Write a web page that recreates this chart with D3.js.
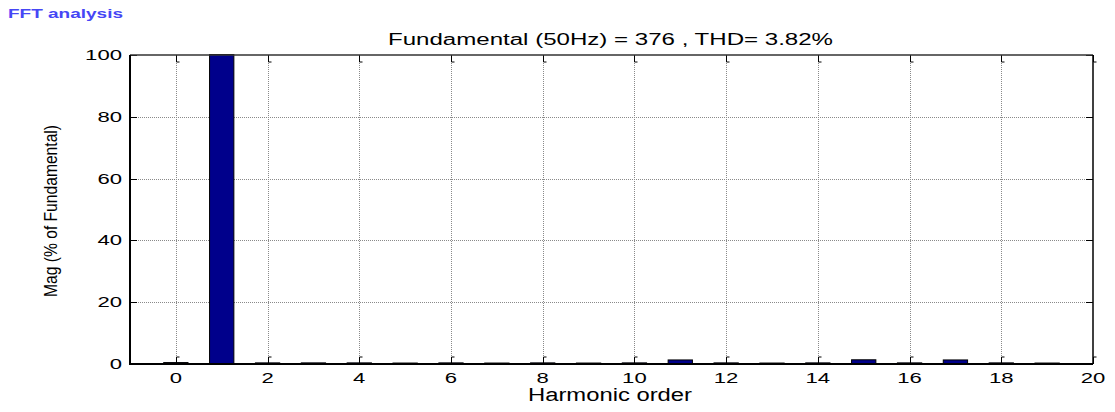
<!DOCTYPE html>
<html><head><meta charset="utf-8">
<script src="https://cdn.jsdelivr.net/npm/d3@7"></script>
<style>body{margin:0;background:#fff}svg{display:block}</style>
</head><body>
<svg id="c" width="1115" height="412"></svg>
<script>
const harmonics = [0,1,2,3,4,5,6,7,8,9,10,11,12,13,14,15,16,17,18,19];
const magnitudes = [0.3,100,0.2,0.2,0.2,0.15,0.2,0.15,0.2,0.15,0.2,1.15,0.2,0.15,0.2,1.2,0.2,1.15,0.2,0.15];
const xTicks = [0,2,4,6,8,10,12,14,16,18,20];
const yTicks = [0,20,40,60,80,100];
const titleText = "Fundamental (50Hz) = 376 , THD= 3.82%";
const xLabel = "Harmonic order";
const yLabel = "Mag (% of Fundamental)";
const headerText = "FFT analysis";

const svg = d3.select("#c");
const L=130, R=1093, T=55, B=364;
const x = d3.scaleLinear().domain([-1,20]).range([L,R]);
const y = d3.scaleLinear().domain([0,100]).range([B,T]);
const font = "'Liberation Sans', Arial, sans-serif";

// grid
const g = svg.append("g");
g.selectAll(".vg").data(xTicks.filter(d=>d<20)).enter().append("line")
  .attr("x1",d=>Math.round(x(d))+0.5).attr("x2",d=>Math.round(x(d))+0.5).attr("y1",T).attr("y2",B)
  .attr("stroke","#8a8a8a").attr("stroke-width",1).attr("stroke-dasharray","1,1");
g.selectAll(".hg").data(yTicks.filter(d=>d>0&&d<100)).enter().append("line")
  .attr("x1",L).attr("x2",R).attr("y1",d=>Math.round(y(d))+0.5).attr("y2",d=>Math.round(y(d))+0.5)
  .attr("stroke","#8a8a8a").attr("stroke-width",1).attr("stroke-dasharray","1,1");

// bars
const bw = 0.53;
svg.selectAll(".bar").data(harmonics).enter().append("rect")
  .attr("x",(d)=>x(d-bw/2)).attr("width",x(bw)-x(0))
  .attr("y",(d,i)=>y(magnitudes[i])-0.5)
  .attr("height",(d,i)=>Math.max(1, y(0)-y(magnitudes[i])+0.5))
  .attr("fill","#00008b").attr("stroke","#000").attr("stroke-width",1);

// ticks (inward)
const tk = svg.append("g").attr("stroke","#000").attr("stroke-width",1).attr("fill","none");
xTicks.forEach(d=>{
  const xx = Math.round(x(d))+0.5;
  tk.append("path").attr("d",`M${xx},${B}V${B-7}h3`);
  tk.append("path").attr("d",`M${xx},${T}V${T+7}h3`);
});
yTicks.forEach(d=>{
  const yy = Math.round(y(d))+0.5;
  tk.append("path").attr("d",`M${L},${yy}H${L+7}`);
  tk.append("path").attr("d",`M${R},${yy}H${R-7}`);
});

// box
svg.append("path").attr("d",`M${L},${T}H${R}`).attr("stroke","#333").attr("stroke-width",1.5);
svg.append("path").attr("d",`M${R},${T}V${B}`).attr("stroke","#000").attr("stroke-width",1.5);
svg.append("path").attr("d",`M${L},${T}V${B}H${R}`).attr("stroke","#000").attr("stroke-width",2).attr("fill","none");

// tick labels
svg.selectAll(".xl").data(xTicks).enter().append("text")
  .attr("x",d=>x(d)).attr("y",383).attr("text-anchor","middle")
  .attr("font-family",font).attr("font-size",14)
  .attr("textLength",d=>String(d).length*12.3).attr("lengthAdjust","spacingAndGlyphs")
  .text(d=>d);
svg.selectAll(".yl").data(yTicks).enter().append("text")
  .attr("x",122).attr("y",d=>y(d)+5).attr("text-anchor","end")
  .attr("font-family",font).attr("font-size",14)
  .attr("textLength",d=>String(d).length*12.3).attr("lengthAdjust","spacingAndGlyphs")
  .text(d=>d);

// title
svg.append("text").attr("x",388).attr("y",45)
  .attr("font-family",font).attr("font-size",16)
  .attr("textLength",445).attr("lengthAdjust","spacingAndGlyphs").text(titleText);
// x label
svg.append("text").attr("x",528).attr("y",401)
  .attr("font-family",font).attr("font-size",18)
  .attr("textLength",164).attr("lengthAdjust","spacingAndGlyphs").text(xLabel);
// y label
svg.append("text").attr("transform","translate(57,297) rotate(-90)")
  .attr("font-family",font).attr("font-size",19)
  .attr("textLength",172).attr("lengthAdjust","spacingAndGlyphs").text(yLabel);
// header
svg.append("text").attr("x",8).attr("y",18)
  .attr("font-family",font).attr("font-size",13).attr("font-weight","bold")
  .attr("fill","#4646f5")
  .attr("textLength",115).attr("lengthAdjust","spacingAndGlyphs").text(headerText);
</script>
</body></html>
